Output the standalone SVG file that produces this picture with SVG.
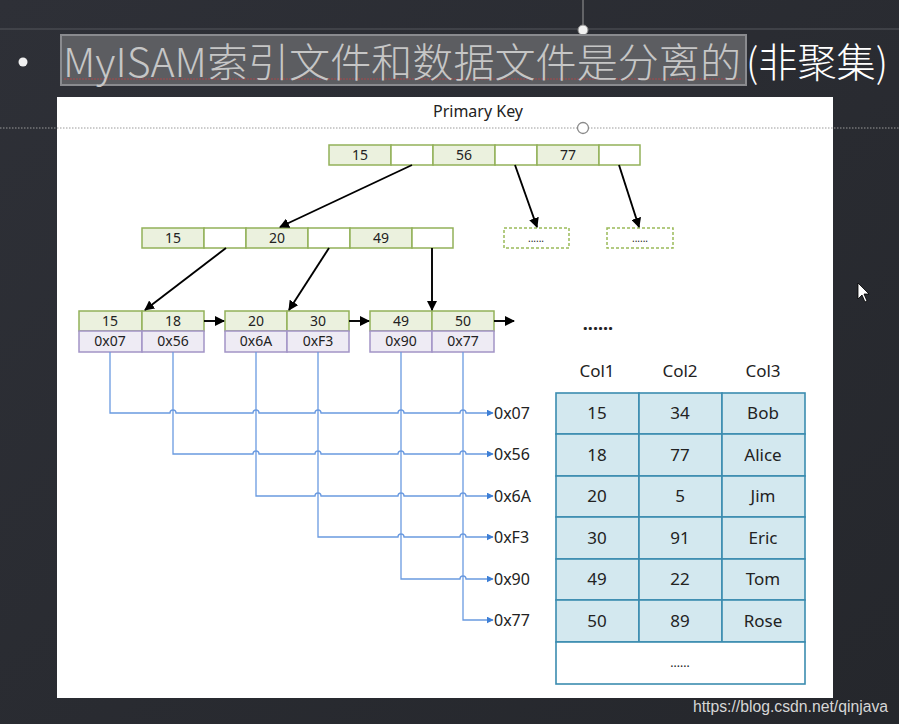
<svg xmlns="http://www.w3.org/2000/svg" width="899" height="724" viewBox="0 0 899 724">
<defs>
<linearGradient id="bg" x1="0" y1="0" x2="1" y2="1">
<stop offset="0" stop-color="#2e3037"/>
<stop offset="1" stop-color="#25272c"/>
</linearGradient>
<marker id="ab" viewBox="0 0 10 10" refX="9" refY="5" markerWidth="10" markerHeight="10" markerUnits="userSpaceOnUse" orient="auto">
<path d="M0,0 L10,5 L0,10 z" fill="#000"/>
</marker>
<marker id="bl" viewBox="0 0 10 10" refX="9" refY="5" markerWidth="7" markerHeight="7" markerUnits="userSpaceOnUse" orient="auto">
<path d="M0,0 L10,5 L0,10 z" fill="#3d7fd6"/>
</marker>
</defs>
<style>
.t{font-family:"Noto Sans","Open Sans",sans-serif;fill:#222;text-anchor:middle}
.k{font-size:14px}
.tb{font-size:17px}
.g{fill:#ebf1de;stroke:#93b159;stroke-width:1.5}
.w{fill:#fff;stroke:#93b159;stroke-width:1.5}
.p{fill:#eeebf4;stroke:#a294c6;stroke-width:1.5}
.d{fill:#fff;stroke:#9bbb59;stroke-width:1.5;stroke-dasharray:3,2}
.c{fill:#d3e8ef;stroke:#3b8cb0;stroke-width:1.6}
.ar{stroke:#000;stroke-width:1.9;fill:none;marker-end:url(#ab)}
.bln{stroke:#6a9ae0;stroke-width:1.3;fill:none;marker-end:url(#bl)}
.ad{font-family:"Noto Sans","Open Sans",sans-serif;fill:#222;font-size:16px}
</style>
<rect width="899" height="724" fill="url(#bg)"/>
<line x1="0" y1="29" x2="899" y2="29" stroke="#55575d" stroke-width="1"/>
<line x1="583" y1="0" x2="583" y2="26" stroke="#9a9a9a" stroke-width="1"/>
<circle cx="583" cy="30" r="5" fill="#f2f2f2" stroke="#888"/>
<circle cx="23" cy="62" r="4.5" fill="#f0f0f0"/>
<rect x="61" y="35" width="685" height="50" fill="#5c5d61" stroke="#8a8b8f" stroke-width="2"/>
<line x1="64" y1="79" x2="742" y2="79" stroke="#a8484a" stroke-width="1" stroke-dasharray="2,1"/>
<text x="63" y="77" font-family="Noto Sans CJK SC,sans-serif" font-size="40" font-weight="300" fill="#c6c6c6" textLength="678" lengthAdjust="spacingAndGlyphs">MyISAM索引文件和数据文件是分离的</text>
<text x="746" y="77" font-family="Noto Sans CJK SC,sans-serif" font-size="40" font-weight="300" fill="#ffffff" textLength="142" lengthAdjust="spacingAndGlyphs">(非聚集)</text>
<rect x="57" y="97" width="776" height="601" fill="#ffffff"/>
<text class="t" x="478" y="117" font-size="16">Primary Key</text>
<line x1="0" y1="128" x2="899" y2="128" stroke="#9a9a9a" stroke-width="1" stroke-dasharray="1.5,1.5"/>
<circle cx="583" cy="128" r="5.5" fill="#fff" stroke="#8a8a8a" stroke-width="1.3"/>

<g id="root">
<rect class="g" x="329" y="145" width="62" height="20"/><text class="t k" x="360" y="160">15</text>
<rect class="w" x="391" y="145" width="42" height="20"/>
<rect class="g" x="433" y="145" width="62" height="20"/><text class="t k" x="464" y="160">56</text>
<rect class="w" x="495" y="145" width="42" height="20"/>
<rect class="g" x="537" y="145" width="62" height="20"/><text class="t k" x="568" y="160">77</text>
<rect class="w" x="599" y="145" width="41" height="20"/>
</g>
<g id="inner">
<rect class="g" x="142" y="228" width="62" height="20"/><text class="t k" x="173" y="243">15</text>
<rect class="w" x="204" y="228" width="42" height="20"/>
<rect class="g" x="246" y="228" width="62" height="20"/><text class="t k" x="277" y="243">20</text>
<rect class="w" x="308" y="228" width="42" height="20"/>
<rect class="g" x="350" y="228" width="62" height="20"/><text class="t k" x="381" y="243">49</text>
<rect class="w" x="412" y="228" width="41" height="20"/>
</g>
<g id="more1"><rect class="d" x="504" y="228" width="65" height="20"/><text class="t" x="536" y="242" font-size="10" fill="#555">......</text></g>
<g id="more2"><rect class="d" x="607" y="228" width="66" height="20"/><text class="t" x="640" y="242" font-size="10" fill="#555">......</text></g>

<g id="leaf1">
<rect class="g" x="79" y="311" width="63" height="20"/><text class="t k" x="110" y="326">15</text>
<rect class="g" x="142" y="311" width="62" height="20"/><text class="t k" x="173" y="326">18</text>
<rect class="p" x="79" y="331" width="63" height="21"/><text class="t k" x="110" y="346">0x07</text>
<rect class="p" x="142" y="331" width="62" height="21"/><text class="t k" x="173" y="346">0x56</text>
</g>
<g id="leaf2">
<rect class="g" x="225" y="311" width="62" height="20"/><text class="t k" x="256" y="326">20</text>
<rect class="g" x="287" y="311" width="62" height="20"/><text class="t k" x="318" y="326">30</text>
<rect class="p" x="225" y="331" width="62" height="21"/><text class="t k" x="256" y="346">0x6A</text>
<rect class="p" x="287" y="331" width="62" height="21"/><text class="t k" x="318" y="346">0xF3</text>
</g>
<g id="leaf3">
<rect class="g" x="370" y="311" width="62" height="20"/><text class="t k" x="401" y="326">49</text>
<rect class="g" x="432" y="311" width="62" height="20"/><text class="t k" x="463" y="326">50</text>
<rect class="p" x="370" y="331" width="62" height="21"/><text class="t k" x="401" y="346">0x90</text>
<rect class="p" x="432" y="331" width="62" height="21"/><text class="t k" x="463" y="346">0x77</text>
</g>
<text class="t" x="598" y="330" font-size="18" font-weight="bold" fill="#111">......</text>

<g id="connectors">
<line class="ar" x1="412" y1="165" x2="280" y2="227"/>
<line class="ar" x1="515" y1="165" x2="537" y2="227"/>
<line class="ar" x1="619" y1="165" x2="639" y2="227"/>
<line class="ar" x1="226" y1="248" x2="145" y2="310"/>
<line class="ar" x1="329" y1="248" x2="289" y2="310"/>
<line class="ar" x1="432" y1="248" x2="432" y2="310"/>
<line class="ar" x1="204" y1="321" x2="224" y2="321"/>
<line class="ar" x1="349" y1="321" x2="369" y2="321"/>
<line class="ar" x1="494" y1="321" x2="514" y2="321"/>
<path class="bln" d="M110,352 V413 H170 a3,3 0 0 1 6,0 H253 a3,3 0 0 1 6,0 H315 a3,3 0 0 1 6,0 H398 a3,3 0 0 1 6,0 H460 a3,3 0 0 1 6,0 H493"/>
<path class="bln" d="M173,352 V454 H253 a3,3 0 0 1 6,0 H315 a3,3 0 0 1 6,0 H398 a3,3 0 0 1 6,0 H460 a3,3 0 0 1 6,0 H493"/>
<path class="bln" d="M256,352 V496 H315 a3,3 0 0 1 6,0 H398 a3,3 0 0 1 6,0 H460 a3,3 0 0 1 6,0 H493"/>
<path class="bln" d="M318,352 V537 H398 a3,3 0 0 1 6,0 H460 a3,3 0 0 1 6,0 H493"/>
<path class="bln" d="M401,352 V579 H460 a3,3 0 0 1 6,0 H493"/>
<path class="bln" d="M463,352 V620 H493"/>
</g>
<g id="addresses">
<text class="ad" x="494" y="419">0x07</text>
<text class="ad" x="494" y="460">0x56</text>
<text class="ad" x="494" y="502">0x6A</text>
<text class="ad" x="494" y="543">0xF3</text>
<text class="ad" x="494" y="585">0x90</text>
<text class="ad" x="494" y="626">0x77</text>
</g>

<g id="table">
<text class="t tb" x="597" y="377">Col1</text>
<text class="t tb" x="680" y="377">Col2</text>
<text class="t tb" x="763" y="377">Col3</text>
<rect class="c" x="556" y="393" width="83" height="41"/><rect class="c" x="639" y="393" width="83" height="41"/><rect class="c" x="722" y="393" width="83" height="41"/>
<rect class="c" x="556" y="434" width="83" height="42"/><rect class="c" x="639" y="434" width="83" height="42"/><rect class="c" x="722" y="434" width="83" height="42"/>
<rect class="c" x="556" y="476" width="83" height="41"/><rect class="c" x="639" y="476" width="83" height="41"/><rect class="c" x="722" y="476" width="83" height="41"/>
<rect class="c" x="556" y="517" width="83" height="42"/><rect class="c" x="639" y="517" width="83" height="42"/><rect class="c" x="722" y="517" width="83" height="42"/>
<rect class="c" x="556" y="559" width="83" height="41"/><rect class="c" x="639" y="559" width="83" height="41"/><rect class="c" x="722" y="559" width="83" height="41"/>
<rect class="c" x="556" y="600" width="83" height="42"/><rect class="c" x="639" y="600" width="83" height="42"/><rect class="c" x="722" y="600" width="83" height="42"/>
<rect x="556" y="642" width="249" height="42" fill="#fff" stroke="#3b8cb0" stroke-width="1.6"/>
<text class="t tb" x="597" y="419">15</text><text class="t tb" x="680" y="419">34</text><text class="t tb" x="763" y="419">Bob</text>
<text class="t tb" x="597" y="461">18</text><text class="t tb" x="680" y="461">77</text><text class="t tb" x="763" y="461">Alice</text>
<text class="t tb" x="597" y="502">20</text><text class="t tb" x="680" y="502">5</text><text class="t tb" x="763" y="502">Jim</text>
<text class="t tb" x="597" y="544">30</text><text class="t tb" x="680" y="544">91</text><text class="t tb" x="763" y="544">Eric</text>
<text class="t tb" x="597" y="585">49</text><text class="t tb" x="680" y="585">22</text><text class="t tb" x="763" y="585">Tom</text>
<text class="t tb" x="597" y="627">50</text><text class="t tb" x="680" y="627">89</text><text class="t tb" x="763" y="627">Rose</text>
<text class="t" x="680" y="667" font-size="12">......</text>
</g>
<path d="M858,283 L858,299 L862,295 L865,302 L867,301 L864,294 L869,294 z" fill="#fff" stroke="#000" stroke-width="0.8"/>
<text x="693" y="712" font-family="Liberation Sans,Arial,sans-serif" font-size="16" fill="#d6d6d6" textLength="195" lengthAdjust="spacingAndGlyphs">https://blog.csdn.net/qinjava</text>
</svg>
